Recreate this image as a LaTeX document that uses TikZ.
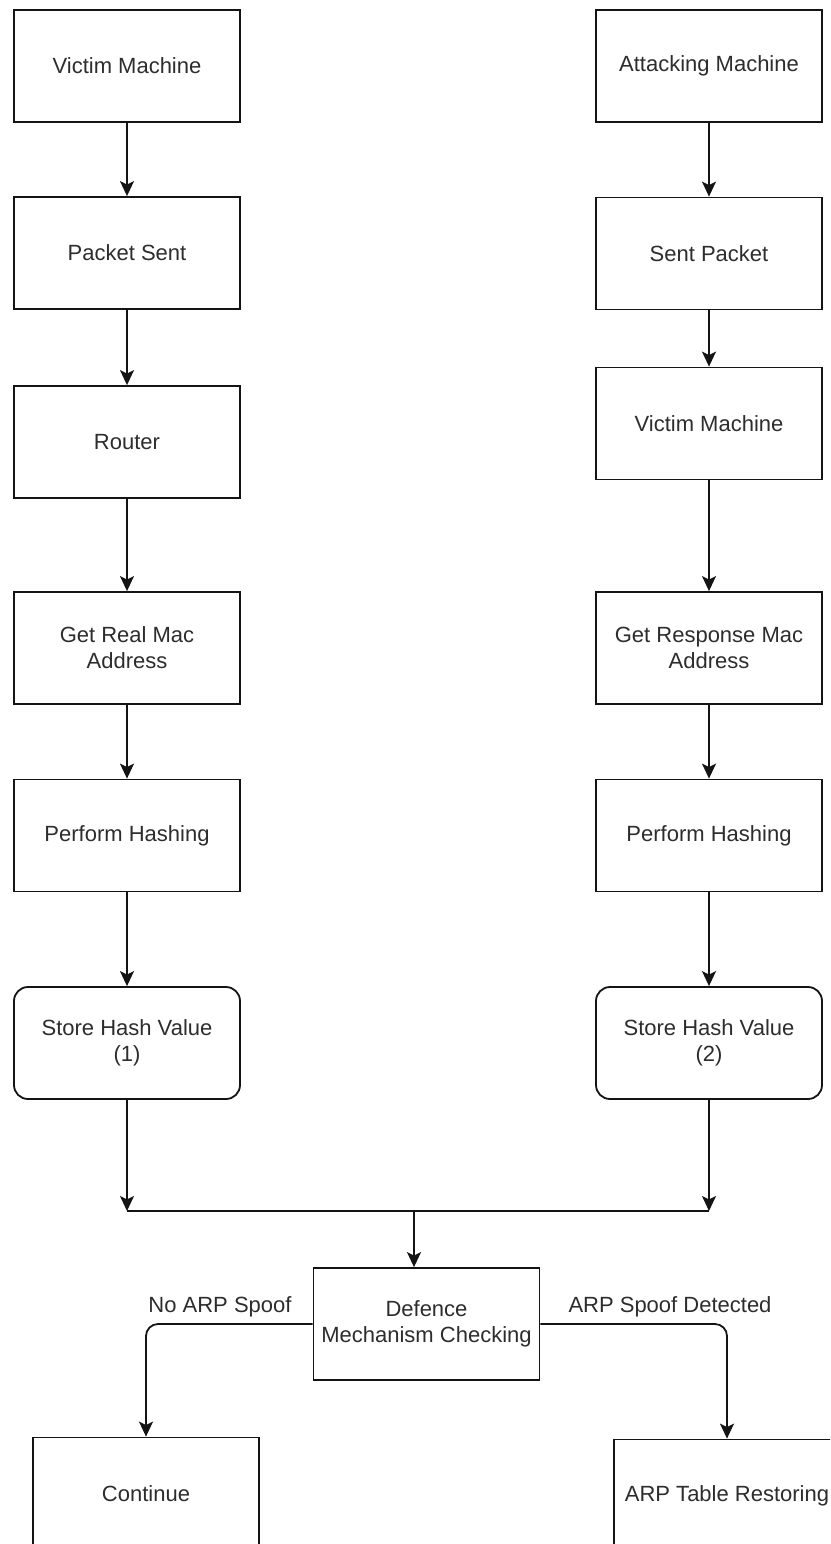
\documentclass[tikz,border=0pt]{standalone}
\usepackage{fontspec}
\setmainfont{Liberation Sans}
\usetikzlibrary{arrows.meta}
\definecolor{inkline}{RGB}{20,20,20}
\definecolor{inktext}{RGB}{45,45,45}
\begin{document}
\begin{tikzpicture}[x=1pt,y=-1pt,
  flowbox/.style={draw=inkline, line width=1.8pt, fill=white,
    minimum width=226pt, minimum height=112pt, inner sep=2pt,
    align=center, text=inktext, font=\fontsize{22}{26}\selectfont},
  roundbox/.style={flowbox, rounded corners=14pt},
  arr/.style={draw=inkline, line width=1.8pt,
    -{Stealth[length=15pt,width=14pt,inset=3.5pt]}},
  plain/.style={draw=inkline, line width=1.8pt},
  lbl/.style={text=inktext, font=\fontsize{22}{26}\selectfont, inner sep=0pt}]
\useasboundingbox (0,0) rectangle (830,1544);
\clip (0,0) rectangle (830,1544);

% left column: genuine traffic
\node[flowbox]  (vm)  at (127,66)     {Victim Machine};
\node[flowbox]  (ps)  at (127,253)    {Packet Sent};
\node[flowbox]  (rt)  at (127,442)    {Router};
\node[flowbox]  (grm) at (127,648)    {Get Real Mac\\Address};
\node[flowbox]  (ph1) at (127,835.5)  {Perform Hashing};
\node[roundbox] (sh1) at (127,1043)   {Store Hash Value\\(1)};

% right column: spoofed traffic
\node[flowbox]  (am)  at (709,66)     {Attacking Machine};
\node[flowbox]  (sp)  at (709,253.5)  {Sent Packet};
\node[flowbox]  (vm2) at (709,423.5)  {Victim Machine};
\node[flowbox]  (grs) at (709,648)    {Get Response Mac\\Address};
\node[flowbox]  (ph2) at (709,835.5)  {Perform Hashing};
\node[roundbox] (sh2) at (709,1043)   {Store Hash Value\\(2)};

% decision and outcomes
\node[flowbox] (dm)  at (426.5,1324)  {Defence\\Mechanism Checking};
\node[flowbox] (con) at (146,1493.5)  {Continue};
\node[flowbox] (atr) at (727,1495.5)  {ARP Table Restoring};

% vertical flow
\draw[arr] (vm) -- (ps);
\draw[arr] (ps) -- (rt);
\draw[arr] (rt) -- (grm);
\draw[arr] (grm) -- (ph1);
\draw[arr] (ph1) -- (sh1);
\draw[arr] (am) -- (sp);
\draw[arr] (sp) -- (vm2);
\draw[arr] (vm2) -- (grs);
\draw[arr] (grs) -- (ph2);
\draw[arr] (ph2) -- (sh2);

% merge of both hash values
\coordinate (mL) at (127,1211);
\coordinate (mR) at (709,1211);
\coordinate (mC) at (414,1211);
\draw[arr] (sh1) -- (mL);
\draw[arr] (sh2) -- (mR);
\draw[plain] (mL) -- (mR);
\draw[arr] (mC) -- (mC |- dm.north);

% branches out of the check
\draw[arr, rounded corners=12pt] (dm.west) -| (con.north);
\draw[arr, rounded corners=12pt] (dm.east |- dm.west) -| (atr.north);
\node[lbl] (lno)  at (220,1307) {No ARP Spoof};
\node[lbl] (lyes) at (670,1307) {ARP Spoof Detected};
\end{tikzpicture}
\end{document}
